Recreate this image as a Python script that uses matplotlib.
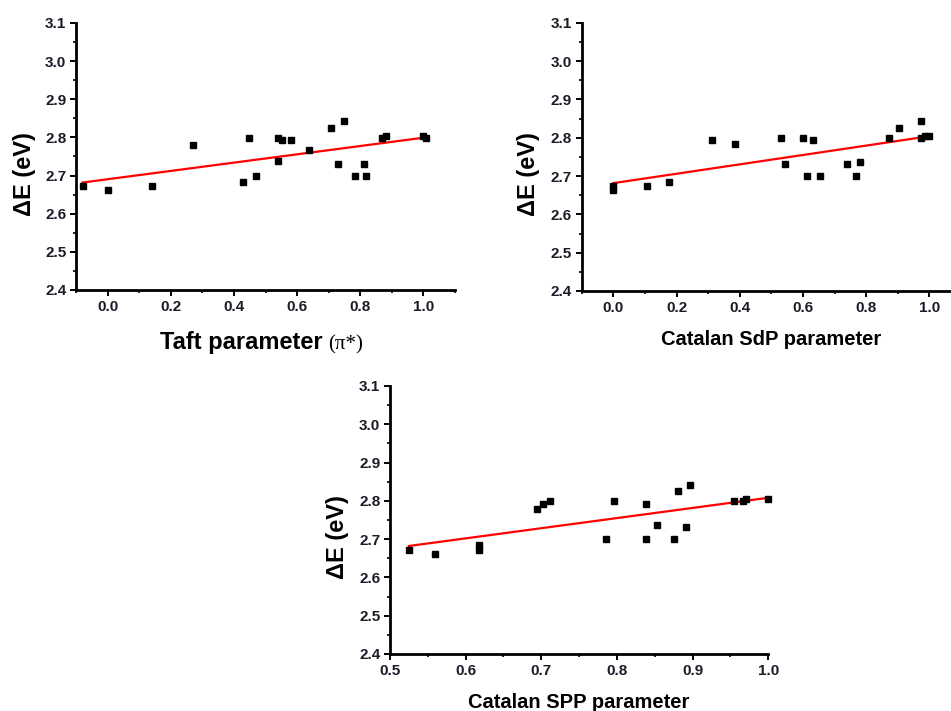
import numpy as np
import matplotlib
matplotlib.use("Agg")
import matplotlib.pyplot as plt
from matplotlib.ticker import MultipleLocator

plt.rcParams['font.family'] = ['Liberation Sans', 'DejaVu Sans']

# Taft parameter (pi*) vs dE
taft_x = [-0.079, 0.0, 0.14, 0.272, 0.429, 0.449, 0.469, 0.54, 0.54, 0.553, 0.581,
          0.639, 0.708, 0.729, 0.749, 0.782, 0.812, 0.819, 0.869, 0.882, 1.0, 1.008]
taft_y = [2.672, 2.662, 2.672, 2.781, 2.684, 2.799, 2.699, 2.799, 2.738, 2.793, 2.793,
          2.768, 2.825, 2.730, 2.843, 2.699, 2.730, 2.699, 2.799, 2.804, 2.804, 2.799]

# Catalan SdP vs dE
sdp_x = [0.0, 0.0, 0.107, 0.177, 0.311, 0.386, 0.530, 0.542, 0.600, 0.612, 0.632,
         0.654, 0.740, 0.768, 0.780, 0.871, 0.904, 0.974, 0.974, 0.986, 1.0]
sdp_y = [2.674, 2.663, 2.674, 2.685, 2.793, 2.783, 2.800, 2.731, 2.800, 2.701, 2.793,
         2.701, 2.731, 2.701, 2.737, 2.800, 2.826, 2.843, 2.800, 2.805, 2.805]

# Catalan SPP vs dE
spp_x = [0.525, 0.560, 0.617, 0.617, 0.694, 0.702, 0.711, 0.786, 0.796, 0.838,
         0.839, 0.853, 0.876, 0.881, 0.891, 0.896, 0.955, 0.967, 0.970, 1.0]
spp_y = [2.672, 2.661, 2.685, 2.672, 2.780, 2.792, 2.799, 2.700, 2.799, 2.700,
         2.792, 2.738, 2.700, 2.825, 2.731, 2.842, 2.799, 2.799, 2.804, 2.804]

W, H = 951, 711
fig = plt.figure(figsize=(W / 100, H / 100), dpi=100)


def px_axes(left, right, top, bottom):
    return fig.add_axes([left / W, 1 - bottom / H, (right - left) / W, (bottom - top) / H])


def style(ax, xlim, xmaj, xmin):
    ax.set_xlim(*xlim)
    ax.set_ylim(2.4, 3.1)
    ax.xaxis.set_major_locator(MultipleLocator(xmaj))
    ax.xaxis.set_minor_locator(MultipleLocator(xmin))
    ax.yaxis.set_major_locator(MultipleLocator(0.1))
    ax.yaxis.set_minor_locator(MultipleLocator(0.05))
    for s in ['top', 'right']:
        ax.spines[s].set_visible(False)
    for s in ['left', 'bottom']:
        ax.spines[s].set_linewidth(2.0)
    ax.tick_params(which='major', direction='out', length=4, width=1.4, labelsize=11,
                   labelcolor='#1c1c28', pad=3)
    ax.tick_params(which='minor', direction='out', length=2.5, width=1.2)
    for lab in ax.get_xticklabels() + ax.get_yticklabels():
        lab.set_fontweight('bold')
    ax.set_ylabel('ΔE (eV)', fontsize=17, fontweight='bold')


def draw(ax, x, y):
    x = np.array(x)
    y = np.array(y)
    k, b = np.polyfit(x, y, 1)
    xs = np.array([x.min(), x.max()])
    ax.plot(xs, k * xs + b, color='#ff0000', lw=1.6, zorder=2)
    ax.plot(x, y, 's', color='black', ms=4.3, zorder=3, clip_on=False)


# panel 1
ax1 = px_axes(76, 455, 23, 290)
draw(ax1, taft_x, taft_y)
style(ax1, (-0.1, 1.1), 0.2, 0.1)
ax1.set_xticks([0.0, 0.2, 0.4, 0.6, 0.8, 1.0])
for lab in ax1.get_xticklabels():
    lab.set_fontweight('bold')
xl = ax1.set_xlabel('Taft parameter', fontsize=17, fontweight='bold')
ax1.xaxis.set_label_coords(0.435, -0.155)
ax1.annotate('(π*)', xy=(1, 0.4), xycoords=xl, xytext=(4, 0), textcoords='offset points',
             ha='left', va='center', fontsize=15, family='Liberation Serif')
ax1.yaxis.set_label_coords(-0.105, 0.436)

# panel 2
ax2 = px_axes(581.7, 961, 22.7, 291)
draw(ax2, sdp_x, sdp_y)
style(ax2, (-0.1, 1.1), 0.2, 0.1)
ax2.set_xticks([0.0, 0.2, 0.4, 0.6, 0.8, 1.0])
for lab in ax2.get_xticklabels():
    lab.set_fontweight('bold')
ax2.set_xlabel('Catalan SdP parameter', fontsize=14.5, fontweight='bold')
ax2.xaxis.set_label_coords(0.5, -0.145)
ax2.yaxis.set_label_coords(-0.11, 0.436)

# panel 3
ax3 = px_axes(390, 768.3, 386, 654)
draw(ax3, spp_x, spp_y)
style(ax3, (0.5, 1.0), 0.1, 0.05)
ax3.set_xlabel('Catalan SPP parameter', fontsize=14.5, fontweight='bold')
ax3.xaxis.set_label_coords(0.5, -0.145)
ax3.yaxis.set_label_coords(-0.108, 0.438)

fig.savefig('out.png', dpi=100)
